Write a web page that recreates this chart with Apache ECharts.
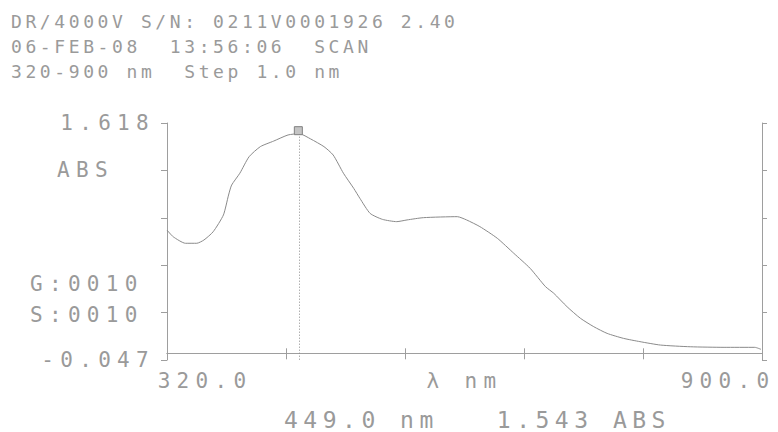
<!DOCTYPE html>
<html>
<head>
<meta charset="utf-8">
<script src="https://cdn.jsdelivr.net/npm/echarts@6/dist/echarts.min.js"></script>
<style>
html,body{margin:0;padding:0;background:#fff;}
#chart{width:778px;height:432px;}
</style>
</head>
<body>
<div id="chart"></div>
<script>
// ---- data ----
const wavelengths = [320, 326, 338, 349, 356, 365, 375, 380, 383, 391, 400, 411, 424, 438, 449, 460, 473, 482, 492, 502, 508, 518, 530, 544, 554, 570, 603, 612, 625, 642, 658, 674, 689, 697, 710, 723, 736, 749, 765, 781, 801, 830, 863, 893, 899];
const absorbance  = [0.866, 0.819, 0.773, 0.773, 0.796, 0.854, 0.972, 1.112, 1.182, 1.265, 1.381, 1.452, 1.491, 1.534, 1.543, 1.506, 1.452, 1.393, 1.265, 1.159, 1.089, 0.983, 0.941, 0.925, 0.937, 0.953, 0.960, 0.937, 0.890, 0.808, 0.703, 0.597, 0.468, 0.422, 0.327, 0.246, 0.187, 0.140, 0.105, 0.082, 0.058, 0.046, 0.042, 0.042, 0.028];
const xTicks = [320, 436, 552, 668, 784, 900];
const xTickLabels = [320, 900];
const yTicks = [-0.047, 0.286, 0.619, 0.952, 1.285, 1.618];
const yTickLabels = [-0.047, 1.618];
const cursorNm = 449.0;
const cursorAbs = 1.543;
const headerLines = ['DR/4000V S/N: 0211V0001926 2.40', '06-FEB-08  13:56:06  SCAN', '320-900 nm  Step 1.0 nm'];
const sideLabels = ['ABS', 'G:0010', 'S:0010'];
const xName = 'λ nm';
const footer = '449.0 nm   1.543 ABS';

const FONT = '"DejaVu Sans Mono", "Liberation Mono", monospace';
const TXT = '#9a9a9a';
const AX = '#9e9e9e';

const seriesData = wavelengths.map((w, i) => [w, absorbance[i]]);

const chart = echarts.init(document.getElementById('chart'), null, {renderer: 'svg'});

function txt(text, x, y, size) {
  return {type: 'text', x: x, y: y, silent: true,
    style: {text: text, fontSize: size, fontFamily: FONT, fill: TXT, verticalAlign: 'middle', align: 'left'}};
}

const axisCommon = {
  type: 'value', min: 320, max: 900,
  axisLine: {show: true, lineStyle: {color: AX, width: 1}},
  splitLine: {show: false}
};

const option = {
  animation: false,
  backgroundColor: '#fff',
  grid: {left: 167, right: 16, top: 123, bottom: 72, containLabel: false},
  xAxis: [
    Object.assign({}, axisCommon, {
      position: 'bottom',
      axisTick: {show: true, inside: false, length: 6, customValues: xTicks, lineStyle: {color: AX}},
      axisLabel: {
        show: true, margin: 10, customValues: xTickLabels,
        formatter: v => (v === 320 ? '{l|' + v.toFixed(1) + '}' : '{r|' + v.toFixed(1) + '}'),
        rich: {
          l: {fontSize: 21, fontFamily: FONT, color: TXT, padding: [0, 0, 0, 76]},
          r: {fontSize: 21, fontFamily: FONT, color: TXT, padding: [0, 68, 0, 0]}
        }
      },
      name: xName, nameLocation: 'middle', nameGap: 10, nameMoveOverlap: false,
      nameTextStyle: {fontSize: 21, fontFamily: FONT, color: TXT, verticalAlign: 'top'}
    }),
    Object.assign({}, axisCommon, {
      position: 'top',
      axisTick: {show: true, inside: false, length: 5, customValues: xTicks, lineStyle: {color: AX}},
      axisLabel: {show: false}
    })
  ],
  yAxis: [
    {
      type: 'value', min: -0.047, max: 1.618, position: 'left',
      axisLine: {show: true, lineStyle: {color: AX, width: 1}},
      axisTick: {show: true, inside: false, length: 6, customValues: yTicks, lineStyle: {color: AX}},
      axisLabel: {show: true, margin: 12, customValues: yTickLabels,
        formatter: v => v.toFixed(3),
        fontSize: 21, fontFamily: FONT, color: TXT},
      splitLine: {show: false}
    },
    {
      type: 'value', min: -0.047, max: 1.618, position: 'right',
      axisLine: {show: true, lineStyle: {color: AX, width: 1}},
      axisTick: {show: true, inside: false, length: 5, customValues: yTicks, lineStyle: {color: AX}},
      axisLabel: {show: false},
      splitLine: {show: false}
    }
  ],
  series: [{
    type: 'line',
    data: seriesData,
    showSymbol: false,
    symbol: 'none',
    smooth: 0.2,
    lineStyle: {color: '#8a8a8a', width: 1},
    silent: true,
    markLine: {
      silent: true, symbol: 'none', label: {show: false},
      lineStyle: {color: '#8a8a8a', type: [1, 2], width: 1},
      data: [[{coord: [cursorNm, cursorAbs]}, {coord: [cursorNm, -0.047]}]]
    },
    markPoint: {
      silent: true,
      symbol: 'rect', symbolSize: 8, symbolOffset: [-1, -3],
      label: {show: false},
      itemStyle: {color: '#c4c4c4', borderColor: '#808080', borderWidth: 1},
      data: [{coord: [cursorNm, cursorAbs]}]
    }
  }],
  graphic: [
    txt(headerLines[0], 11, 21.5, 18),
    txt(headerLines[1], 11, 46.5, 18),
    txt(headerLines[2], 11, 71.5, 18),
    txt(sideLabels[0], 57, 170, 21),
    txt(sideLabels[1], 30, 284, 21),
    txt(sideLabels[2], 30, 315, 21),
    txt(footer, 284, 420, 23)
  ]
};

chart.setOption(option);

function applySpacing() {
  document.querySelectorAll('#chart svg text').forEach(t => {
    const fs = parseFloat(getComputedStyle(t).fontSize);
    let ls = 0;
    if (fs >= 22.5) ls = 5.5;
    else if (fs >= 20) ls = 6.3;
    else if (fs >= 17) ls = 3.6;
    t.style.letterSpacing = ls + 'px';
  });
}
applySpacing();
chart.on('finished', applySpacing);
setTimeout(applySpacing, 50);
setTimeout(applySpacing, 300);
</script>
</body>
</html>
